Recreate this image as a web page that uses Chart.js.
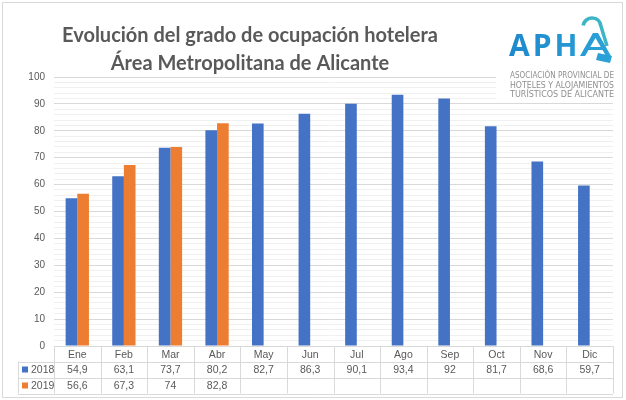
<!DOCTYPE html>
<html>
<head>
<meta charset="utf-8">
<script src="https://cdn.jsdelivr.net/npm/chart.js"></script>
<style>
  body { margin: 0; background: #fff; }
  canvas { display: block; }
</style>
</head>
<body>
<canvas id="myChart" width="626" height="400"></canvas>
<script>
// data
var months = ["Ene", "Feb", "Mar", "Abr", "May", "Jun", "Jul", "Ago", "Sep", "Oct", "Nov", "Dic"];
var seriesNames = ["2018", "2019"];
var values2018 = [54.9, 63.1, 73.7, 80.2, 82.7, 86.3, 90.1, 93.4, 92, 81.7, 68.6, 59.7];
var values2019 = [56.6, 67.3, 74, 82.8];
var titleLines = ["Evolución del grado de ocupación hotelera", "Área Metropolitana de Alicante"];
var logoLines = ["ASOCIACIÓN PROVINCIAL DE", "HOTELES Y ALOJAMIENTOS", "TURÍSTICOS DE ALICANTE"];

var BLUE = '#4472C4';
var ORANGE = '#ED7D31';
var TXT = '#595959';
var GRID = '#d9d9d9';

function fmt(v) {
    if (v === undefined || v === null) return '';
    return String(v).replace('.', ',');
}

// title, logo, data table underneath the plot
var extras = {
    id: 'extras',
    afterDraw: function(chart) {
        var c = chart.ctx;
        var area = chart.chartArea;
        var xs = chart.scales.x;
        var colW = (area.right - area.left) / months.length;
        c.save();

        // frame
        c.strokeStyle = '#d9d9d9';
        c.lineWidth = 1;
        c.strokeRect(2.5, 2.5, 620, 395);

        // title
        c.fillStyle = TXT;
        c.font = 'bold 20px Lato';
        c.textAlign = 'center';
        c.textBaseline = 'alphabetic';
        c.fillText(titleLines[0], 250, 42);
        c.fillText(titleLines[1], 250, 70);

        // logo
        c.fillStyle = '#fff';
        c.fillRect(496, 8, 122, 92);
        var g = c.createLinearGradient(510, 0, 612, 0);
        g.addColorStop(0, '#1e88cc');
        g.addColorStop(1, '#2aa3d8');
        c.fillStyle = g;
        c.font = 'bold 30px "Open Sans"';
        c.textAlign = 'left';
        c.letterSpacing = '3px';
        c.fillText('APH', 509, 56);
        c.letterSpacing = '0px';
        // stylised last A with tag
        c.beginPath();
        c.moveTo(580, 56); c.lineTo(593, 33); c.lineTo(598, 33); c.lineTo(611, 56);
        c.lineTo(606, 56); c.lineTo(595.5, 38); c.lineTo(585, 56); c.closePath();
        c.fill();
        c.beginPath();
        c.moveTo(598, 53); c.lineTo(612, 56); c.lineTo(610, 63); c.lineTo(596, 60); c.closePath();
        c.fill();
        c.fillRect(588, 47, 16, 3);
        // loop
        c.strokeStyle = '#3cb6c6';
        c.lineWidth = 3.5;
        c.beginPath();
        c.arc(592, 27, 9, Math.PI * 1.05, Math.PI * 1.9);
        c.stroke();
        c.beginPath();
        c.moveTo(600, 23); c.lineTo(607, 46);
        c.stroke();

        c.fillStyle = '#8f8f8f';
        c.font = '8.5px "DejaVu Sans"';
        for (var i = 0; i < logoLines.length; i++) {
            c.fillText(logoLines[i], 510, 78 + i * 9.5, 104);
        }

        // table
        var y0 = area.bottom, y1 = y0 + 15.5, y2 = y1 + 16, y3 = y2 + 16;
        var xl = 18;
        c.strokeStyle = GRID;
        c.lineWidth = 1;
        c.beginPath();
        [y1, y2, y3].forEach(function(y) {
            c.moveTo(xl, Math.round(y) + 0.5); c.lineTo(area.right, Math.round(y) + 0.5);
        });
        for (var k = 0; k <= months.length; k++) {
            var xx = Math.round(area.left + k * colW) + 0.5;
            c.moveTo(xx, y0); c.lineTo(xx, y3);
        }
        c.moveTo(xl + 0.5, y1); c.lineTo(xl + 0.5, y3);
        c.stroke();

        c.fillStyle = TXT;
        c.font = '10.5px "Liberation Sans"';
        c.textAlign = 'center';
        c.textBaseline = 'middle';
        var rows = [values2018, values2019];
        for (var m = 0; m < months.length; m++) {
            var cx = xs.getPixelForValue(m);
            c.fillText(months[m], cx, (y0 + y1) / 2 + 1);
            c.fillText(fmt(rows[0][m]), cx, (y1 + y2) / 2 + 1);
            c.fillText(fmt(rows[1][m]), cx, (y2 + y3) / 2 + 1);
        }
        var colors = [BLUE, ORANGE];
        var ys = [(y1 + y2) / 2, (y2 + y3) / 2];
        for (var r = 0; r < 2; r++) {
            c.fillStyle = colors[r];
            c.fillRect(22, ys[r] - 3, 6, 6);
            c.fillStyle = TXT;
            c.textAlign = 'left';
            c.fillText(seriesNames[r], 31, ys[r] + 1);
        }
        c.restore();
    }
};

var ctx = document.getElementById('myChart').getContext('2d');
var chart = new Chart(ctx, {
    type: 'bar',
    data: {
        labels: months,
        datasets: [{
            label: seriesNames[0],
            backgroundColor: BLUE,
            data: values2018
        }, {
            label: seriesNames[1],
            backgroundColor: ORANGE,
            data: values2019
        }]
    },
    options: {
        responsive: false,
        animation: false,
        layout: { padding: { top: 77, right: 13, left: 0, bottom: 0 } },
        datasets: { bar: { categoryPercentage: 0.5, barPercentage: 1 } },
        plugins: {
            legend: { display: false },
            title: { display: false },
            tooltip: { enabled: false }
        },
        scales: {
            x: {
                grid: { display: false },
                border: { display: false },
                ticks: { display: false },
                afterFit: function(s) { s.height = 54; }
            },
            y: {
                min: 0,
                max: 100,
                border: { display: false },
                grid: {
                    drawTicks: false,
                    color: function(c) {
                        return c.tick && c.tick.value % 10 === 0 ? GRID : '#f0f0f0';
                    }
                },
                ticks: {
                    stepSize: 2,
                    autoSkip: false,
                    color: TXT,
                    font: { family: 'Liberation Sans', size: 10 },
                    padding: 9,
                    callback: function(v) { return v % 10 === 0 ? v : ''; }
                },
                afterFit: function(s) { s.width = 54; }
            }
        }
    },
    plugins: [extras]
});
</script>
</body>
</html>
